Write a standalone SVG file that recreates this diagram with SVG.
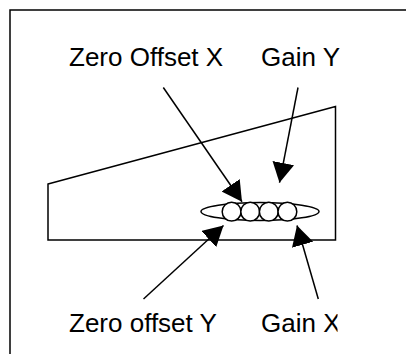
<svg xmlns="http://www.w3.org/2000/svg" width="406" height="354" viewBox="0 0 406 354">
<style>
.ln{fill:none;stroke:#000;stroke-width:1.5}
.sh{fill:#fff;stroke:#000;stroke-width:1.5}
.lbl{font-family:"Liberation Sans",Arial,sans-serif;font-size:26px;fill:#000}
.ar{fill:none;stroke:#000;stroke-width:1.5;marker-end:url(#ah)}
</style>
<defs>
<marker id="ah" markerUnits="userSpaceOnUse" markerWidth="21" markerHeight="23" refX="20" refY="11" orient="auto" viewBox="0 0 21 23">
<path d="M0,0 L20,11 L0,22 z" fill="#000"/>
</marker>
<clipPath id="gxclip"><rect x="250" y="300" width="87.5" height="40"/></clipPath>
</defs>
<rect width="406" height="354" fill="#fff"/>
<g id="frame"><path class="ln" d="M10,354 L10,10 L406,10"/></g>
<g id="wedge"><path class="ln" d="M48,184 L335.5,106.5 L335.5,240 L48,240 Z"/></g>
<g id="sensor">
<ellipse class="sh" cx="260" cy="211.5" rx="59" ry="9"/>
<circle class="sh" cx="231.6" cy="211.7" r="9.4"/>
<circle class="sh" cx="250.2" cy="211.7" r="9.4"/>
<circle class="sh" cx="268.8" cy="211.7" r="9.4"/>
<circle class="sh" cx="287.4" cy="211.7" r="9.4"/>
</g>
<g id="connectors">
<line class="ar" x1="163.3" y1="87.5" x2="242" y2="201.7"/>
<line class="ar" x1="298" y1="87.5" x2="279.5" y2="182.7"/>
<line class="ar" x1="143.5" y1="299" x2="223.5" y2="225.5"/>
<line class="ar" x1="318.3" y1="299" x2="297" y2="225.5"/>
</g>
<g id="label-zero-offset-x"><text class="lbl" x="69" y="66">Zero Offset X</text></g>
<g id="label-gain-y"><text class="lbl" x="261" y="66">Gain Y</text></g>
<g id="label-zero-offset-y"><text class="lbl" x="69" y="332">Zero offset Y</text></g>
<g id="label-gain-x"><text class="lbl" x="261" y="332" clip-path="url(#gxclip)">Gain X</text></g>
</svg>
